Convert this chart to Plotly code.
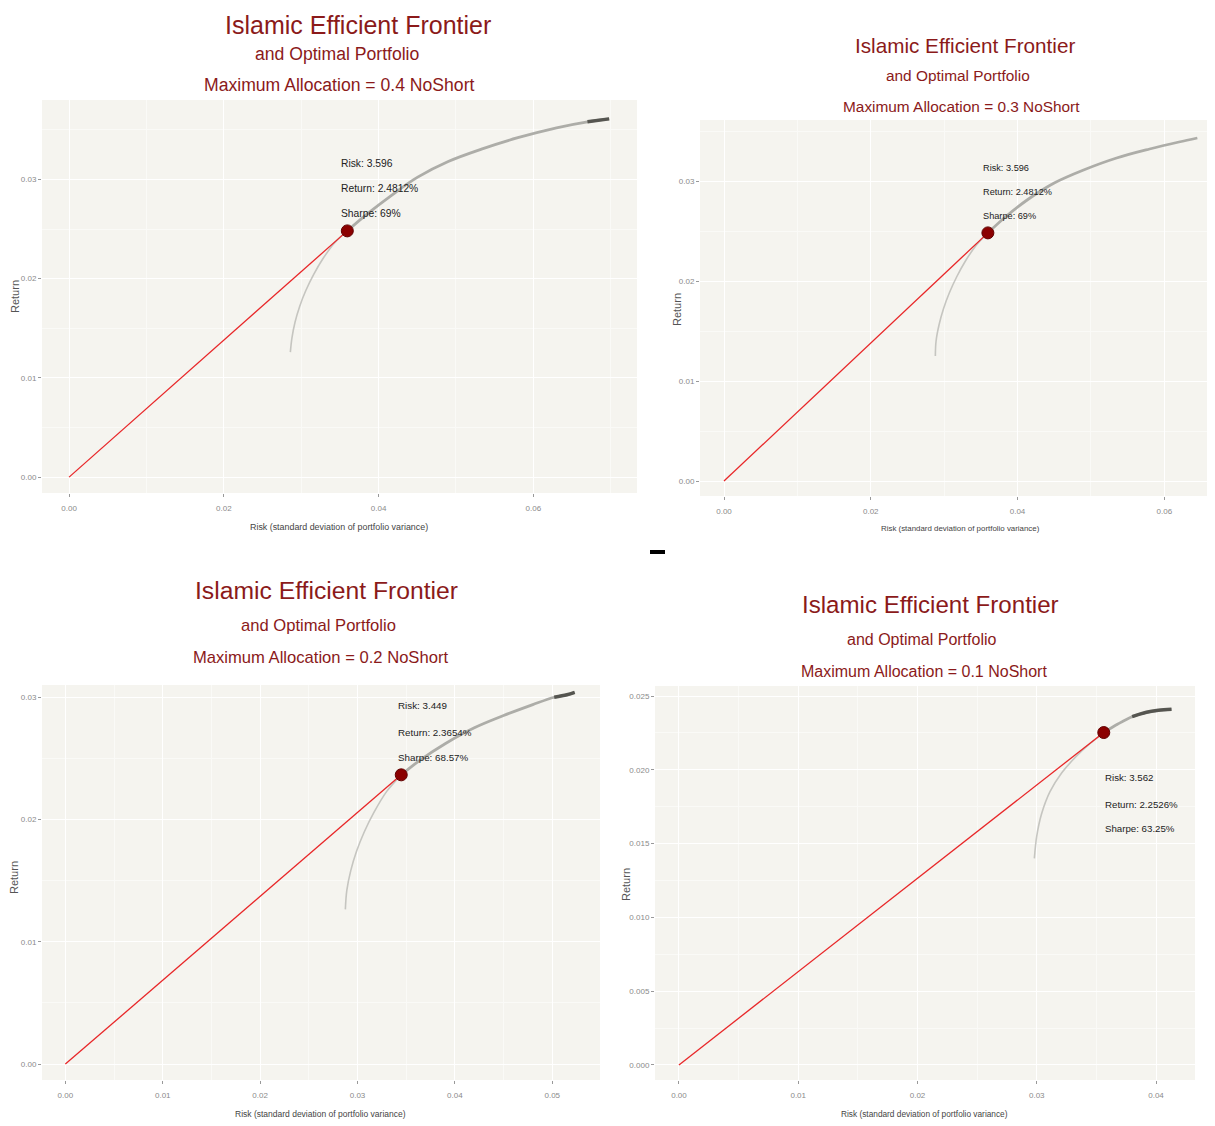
import plotly.graph_objects as go

# ---------------- data ----------------
alloc_labels = ["0.4", "0.3", "0.2", "0.1"]

risk_a04 = [0.0286, 0.0288, 0.0292, 0.0298, 0.0306, 0.0316, 0.0328, 0.0343, 0.03596, 0.0385,
            0.0415, 0.0450, 0.0490, 0.0535, 0.0580, 0.0630, 0.0670, 0.0698]
ret_a04 = [0.0126, 0.0140, 0.0156, 0.0172, 0.0188, 0.0204, 0.0220, 0.0236, 0.024812, 0.0265,
           0.0283, 0.0302, 0.0318, 0.0331, 0.0342, 0.0352, 0.0358, 0.0361]

risk_a03 = [0.0288, 0.0289, 0.0293, 0.0299, 0.0307, 0.0317, 0.0329, 0.0344, 0.03596, 0.0385,
            0.0415, 0.0450, 0.0490, 0.0535, 0.0580, 0.0620, 0.0645]
ret_a03 = [0.0125, 0.0140, 0.0156, 0.0172, 0.0188, 0.0204, 0.0220, 0.0236, 0.024812, 0.0265,
           0.0282, 0.0298, 0.0311, 0.0323, 0.0332, 0.0339, 0.0343]

risk_a02 = [0.02875, 0.0289, 0.0293, 0.0299, 0.0307, 0.0317, 0.0330, 0.03449, 0.0365, 0.0390,
            0.0420, 0.0450, 0.0480, 0.0502, 0.0515, 0.0523]
ret_a02 = [0.01265, 0.0142, 0.0158, 0.0174, 0.0190, 0.0206, 0.0223, 0.023654, 0.0249, 0.0262,
           0.0275, 0.0285, 0.0294, 0.0300, 0.0302, 0.0304]

risk_a01 = [0.0298, 0.0300, 0.0304, 0.0311, 0.0321, 0.0333, 0.0345, 0.03562, 0.0368, 0.0380,
            0.0392, 0.0402, 0.0413]
ret_a01 = [0.0140, 0.0155, 0.0170, 0.0185, 0.0198, 0.0209, 0.0218, 0.022526, 0.0231, 0.0236,
           0.0239, 0.02403, 0.0241]

opt_risk = [0.03596, 0.03596, 0.03449, 0.03562]
opt_return = [0.024812, 0.024812, 0.023654, 0.022526]
risk_labels = ["3.596", "3.596", "3.449", "3.562"]
return_labels = ["2.4812%", "2.4812%", "2.3654%", "2.2526%"]
sharpe_labels = ["69%", "69%", "68.57%", "63.25%"]

xticks_a04 = [0.00, 0.02, 0.04, 0.06]
xticks_a03 = [0.00, 0.02, 0.04, 0.06]
xticks_a02 = [0.00, 0.01, 0.02, 0.03, 0.04, 0.05]
xticks_a01 = [0.00, 0.01, 0.02, 0.03, 0.04]
yticks_a04 = [0.00, 0.01, 0.02, 0.03]
yticks_a03 = [0.00, 0.01, 0.02, 0.03]
yticks_a02 = [0.00, 0.01, 0.02, 0.03]
yticks_a01 = [0.000, 0.005, 0.010, 0.015, 0.020, 0.025]

frontiers = [(risk_a04, ret_a04), (risk_a03, ret_a03), (risk_a02, ret_a02), (risk_a01, ret_a01)]
xticks = [xticks_a04, xticks_a03, xticks_a02, xticks_a01]
yticks = [yticks_a04, yticks_a03, yticks_a02, yticks_a01]

# ---------------- layout / style ----------------
W, H = 1215, 1126
OFF = 8  # page body margin
FONT = "Liberation Sans, Arial, sans-serif"
TITLE_COLOR = "#8B1A1A"
BG = "#F5F4EF"


def fx(px):
    return (px - OFF) / W


def fy(py):
    return 1 - (py - OFF) / H


panels = [
    dict(px=(42, 637), py=(100, 493), xr=[-0.0035, 0.0734], yr=[-0.0016, 0.038],
         xfmt=".2f", yfmt=".2f", xminor=0.01, yminor=0.005,
         t_sizes=(25, 17.6), t_pos=[(358, 24.5), (337, 54), (339, 85)],
         ann_x=0.0349, ann_y=[0.0316, 0.0291, 0.02655], ann_size=10.3, ax_size=8.9,
         xt=(339, 527), yt=(15, 297), tail=0.0660),
    dict(px=(700, 1223), py=(120, 496), xr=[-0.00327, 0.0680], yr=[-0.0015, 0.0361],
         xfmt=".2f", yfmt=".2f", xminor=0.01, yminor=0.005,
         t_sizes=(20.7, 15.4), t_pos=[(965, 46), (958, 75), (961, 106)],
         ann_x=0.0350, ann_y=[0.0313, 0.02887, 0.0265], ann_size=9.2, ax_size=7.9,
         xt=(960, 528), yt=(677, 310), tail=0.0640),
    dict(px=(42, 600), py=(685, 1080), xr=[-0.0024, 0.0549], yr=[-0.0013, 0.0310],
         xfmt=".2f", yfmt=".2f", xminor=0.005, yminor=0.005,
         t_sizes=(24.7, 16.6), t_pos=[(326, 590), (318, 625), (320, 657)],
         ann_x=0.0340, ann_y=[0.02932, 0.02714, 0.02507], ann_size=9.8, ax_size=8.5,
         xt=(320, 1114), yt=(14, 878), tail=0.0500),
    dict(px=(655, 1195), py=(686, 1080), xr=[-0.00201, 0.04327], yr=[-0.00102, 0.02568],
         xfmt=".2f", yfmt=".3f", xminor=0.005, yminor=0.0025,
         t_sizes=(24.1, 16.0), t_pos=[(930, 604), (922, 639), (924, 671)],
         ann_x=0.03556, ann_y=[0.01948, 0.01768, 0.01604], ann_size=9.7, ax_size=8.3,
         xt=(924, 1114), yt=(626, 885), tail=0.0372),
]

fig = go.Figure()
annotations = []
shapes = []

for i, p in enumerate(panels):
    n = i + 1
    xa = "x" if n == 1 else f"x{n}"
    ya = "y" if n == 1 else f"y{n}"
    xkey = "xaxis" if n == 1 else f"xaxis{n}"
    ykey = "yaxis" if n == 1 else f"yaxis{n}"
    risk, ret = frontiers[i]

    # split frontier into lower (light), upper (medium) and tail (dark) parts
    k_opt = min(range(len(risk)), key=lambda j: abs(risk[j] - opt_risk[i]))
    tail_idx = [j for j in range(len(risk)) if risk[j] >= p["tail"]]

    fig.add_trace(go.Scatter(x=risk[:k_opt + 1], y=ret[:k_opt + 1], mode="lines", xaxis=xa, yaxis=ya,
                             line=dict(color="rgba(185,185,180,0.8)", width=1.6, shape="spline"),
                             hoverinfo="skip", showlegend=False))
    fig.add_trace(go.Scatter(x=risk[k_opt:], y=ret[k_opt:], mode="lines", xaxis=xa, yaxis=ya,
                             line=dict(color="rgba(160,160,155,0.85)", width=2.8, shape="spline"),
                             hoverinfo="skip", showlegend=False))
    if tail_idx:
        t0 = tail_idx[0]
        fig.add_trace(go.Scatter(x=risk[t0:], y=ret[t0:], mode="lines", xaxis=xa, yaxis=ya,
                                 line=dict(color="rgba(75,75,70,0.9)", width=3.5, shape="spline"),
                                 hoverinfo="skip", showlegend=False))

    # capital market line from origin to the optimal portfolio
    fig.add_trace(go.Scatter(x=[0, opt_risk[i]], y=[0, opt_return[i]], mode="lines",
                             xaxis=xa, yaxis=ya, line=dict(color="rgb(232,38,40)", width=1.3),
                             hoverinfo="skip", showlegend=False))
    fig.add_trace(go.Scatter(x=[opt_risk[i]], y=[opt_return[i]], mode="markers",
                             xaxis=xa, yaxis=ya,
                             marker=dict(color="#8B0000", size=12, line=dict(color="#600000", width=1)),
                             hoverinfo="skip", showlegend=False))

    xdom = [fx(p["px"][0]), min(1.0, fx(p["px"][1]))]
    ydom = [fy(p["py"][1]), fy(p["py"][0])]
    fig.update_layout({
        xkey: dict(domain=xdom, range=p["xr"], anchor=ya, tickvals=xticks[i], tickformat=p["xfmt"],
                   showgrid=True, gridcolor="white", gridwidth=1.1, zeroline=False,
                   ticks="outside", ticklen=3, tickcolor="#999", tickwidth=1,
                   tickfont=dict(family=FONT, size=8, color="#8a8a8a"), ticklabelstandoff=4,
                   minor=dict(dtick=p["xminor"], tick0=0, showgrid=True, gridcolor="#FAFAF7", gridwidth=0.8),
                   showline=False, fixedrange=True),
        ykey: dict(domain=ydom, range=p["yr"], anchor=xa, tickvals=yticks[i], tickformat=p["yfmt"],
                   showgrid=True, gridcolor="white", gridwidth=1.1, zeroline=False,
                   ticks="outside", ticklen=3, tickcolor="#999", tickwidth=1,
                   tickfont=dict(family=FONT, size=8, color="#8a8a8a"),
                   minor=dict(dtick=p["yminor"], tick0=0, showgrid=True, gridcolor="#FAFAF7", gridwidth=0.8),
                   showline=False, fixedrange=True),
    })
    shapes.append(dict(type="rect", xref="paper", yref="paper", x0=xdom[0], x1=xdom[1],
                       y0=ydom[0], y1=ydom[1], fillcolor=BG, line=dict(width=0), layer="below"))

    # titles
    lines = ["Islamic Efficient Frontier", "and Optimal Portfolio",
             f"Maximum Allocation = {alloc_labels[i]} NoShort"]
    for li, txt in enumerate(lines):
        cx, cy = p["t_pos"][li]
        annotations.append(dict(text=txt, x=fx(cx), y=fy(cy), xref="paper", yref="paper",
                                xanchor="center", yanchor="middle", showarrow=False, borderpad=0,
                                font=dict(family=FONT,
                                          size=p["t_sizes"][0] if li == 0 else p["t_sizes"][1],
                                          color=TITLE_COLOR)))
    # point labels
    lab = [f"Risk: {risk_labels[i]}", f"Return: {return_labels[i]}", f"Sharpe: {sharpe_labels[i]}"]
    for li, txt in enumerate(lab):
        annotations.append(dict(text=txt, x=p["ann_x"], y=p["ann_y"][li], xref=xa, yref=ya,
                                xanchor="left", yanchor="middle", showarrow=False,
                                font=dict(family=FONT, size=p["ann_size"], color="#222")))
    # axis titles
    annotations.append(dict(text="Risk (standard deviation of portfolio variance)",
                            x=fx(p["xt"][0]), y=fy(p["xt"][1]), xref="paper", yref="paper",
                            xanchor="center", yanchor="middle", showarrow=False,
                            font=dict(family=FONT, size=p["ax_size"], color="#444")))
    annotations.append(dict(text="Return", x=fx(p["yt"][0]), y=fy(p["yt"][1]),
                            xref="paper", yref="paper", xanchor="center", yanchor="middle",
                            textangle=-90, showarrow=False,
                            font=dict(family=FONT, size=11, color="#555")))

# small black dash between panels
shapes.append(dict(type="rect", xref="paper", yref="paper", x0=fx(650), x1=fx(665),
                   y0=fy(554), y1=fy(550), fillcolor="black", line=dict(width=0)))

fig.update_layout(width=W, height=H, margin=dict(l=0, r=0, t=0, b=0),
                  paper_bgcolor="white", plot_bgcolor="rgba(0,0,0,0)",
                  annotations=annotations, shapes=shapes, showlegend=False)

fig.write_html("out.html")
